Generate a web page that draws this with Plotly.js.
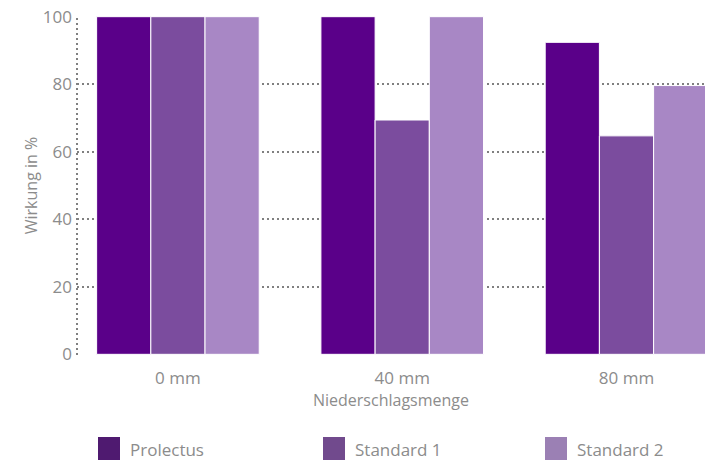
<!DOCTYPE html>
<html><head><meta charset="utf-8">
<script src="https://cdn.plot.ly/plotly-3.0.1.min.js"></script>
<style>html,body{margin:0;padding:0;background:#fff}#chart{width:706px;height:463px}</style>
</head><body><div id="chart"></div>
<script>
const categories = ["0 mm", "40 mm", "80 mm"];
const seriesNames = ["Prolectus", "Standard 1", "Standard 2"];
const prolectus = [100, 100, 92.4];
const standard1 = [100, 69.4, 64.7];
const standard2 = [100, 100, 79.6];
const yTicks = [0, 20, 40, 60, 80, 100];

const barColors = ["#5a0089", "#7b4c9e", "#a887c5"];
const legendColors = ["#4f1a70", "#714a8d", "#9b80b4"];
const values = [prolectus, standard1, standard2];
const gray = "#8c8c8c";
const dotGray = "#808080";
const font = "Open Sans, sans-serif";

const traces = values.map((v, i) => ({
  type: "bar", x: categories, y: v, name: seriesNames[i],
  marker: {color: barColors[i], line: {color: "#ffffff", width: 1}},
  showlegend: false, hoverinfo: "skip"
}));

const legendX = [98, 323, 545];
const shapes = [{type: "line", xref: "paper", yref: "paper", x0: 0, x1: 0, y0: 0, y1: 1,
  line: {color: dotGray, width: 2, dash: "2px,3px"}, layer: "below"}];
const annotations = [];
seriesNames.forEach((n, i) => {
  const px = (legendX[i] - 77) / (706 - 77 - 1);
  const pw = 22 / (706 - 77 - 1);
  shapes.push({type: "rect", xref: "paper", yref: "paper", x0: px, x1: px + pw,
    y0: -(437 - 355) / 339, y1: -(460 - 355) / 339, fillcolor: legendColors[i], line: {width: 0}});
  annotations.push({xref: "paper", yref: "paper", x: px + pw + 8 / 628, y: -(449 - 355) / 339,
    xanchor: "left", yanchor: "middle", text: n, showarrow: false,
    font: {family: font, size: 17, color: gray}});
});

const layout = {
  width: 706, height: 463,
  margin: {l: 77, r: 1, t: 16, b: 108},
  paper_bgcolor: "#fff", plot_bgcolor: "#fff",
  barmode: "group", bargap: 0.275, bargroupgap: 0,
  font: {family: font, color: gray},
  xaxis: {range: [-0.45, 2.35], showgrid: false, zeroline: false, showline: false,
    ticks: "outside", ticklen: 8, tickcolor: "rgba(0,0,0,0)", tickfont: {size: 17, color: gray, family: font},
    title: {text: "Niederschlagsmenge", font: {size: 16, color: gray, family: font}, standoff: 2}},
  yaxis: {range: [-0.2, 100.2], tickvals: yTicks, showgrid: true, gridcolor: dotGray, griddash: "2px,3px", gridwidth: 2,
    zeroline: false, showline: false, ticks: "", ticklabelstandoff: 4,
    tickfont: {size: 17, color: gray, family: font},
    title: {text: "Wirkung in %", font: {size: 16, color: gray, family: font}, standoff: 1}},
  shapes: shapes, annotations: annotations, showlegend: false
};
Plotly.newPlot("chart", traces, layout, {displayModeBar: false, staticPlot: true});
</script></body></html>
